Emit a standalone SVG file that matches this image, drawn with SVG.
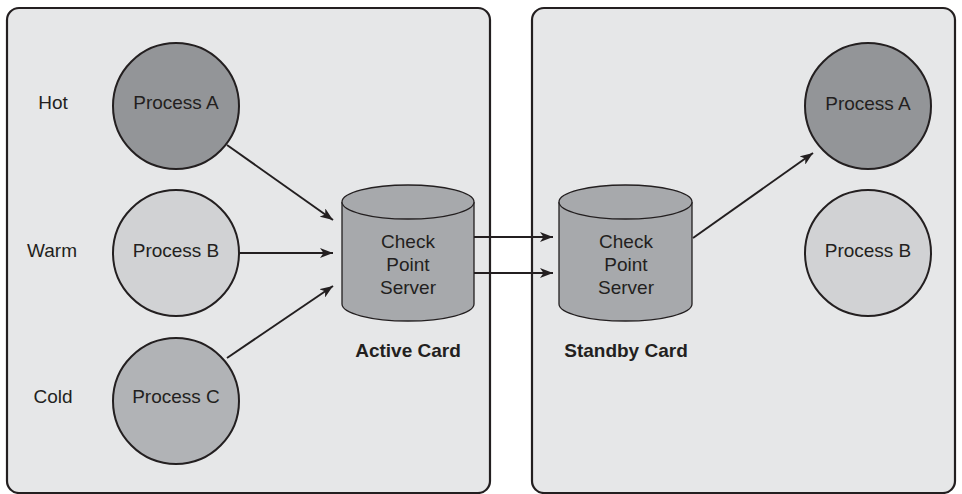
<svg xmlns="http://www.w3.org/2000/svg" width="962" height="494" viewBox="0 0 962 494">
<defs>
<style>
.panel{fill:#e6e7e8;stroke:#231f20;stroke-width:2.2}
.proc{stroke:#231f20;stroke-width:2}
.cyl{fill:#a7a9ac;stroke:#231f20;stroke-width:1.3}
.t{font-family:"Liberation Sans",Arial,sans-serif;font-size:19px;fill:#231f20;text-anchor:middle}
.b{font-weight:bold}
.c{stroke:#231f20;stroke-width:2;fill:none;marker-end:url(#ah)}
</style>
<marker id="ah" viewBox="0 0 13 10" refX="13" refY="5" markerWidth="13" markerHeight="10" markerUnits="userSpaceOnUse" orient="auto">
<path d="M0,0 L13,5 L0,10 L3.5,5 Z" fill="#231f20"/>
</marker>
</defs>
<rect id="active-card" class="panel" x="7" y="8" width="483" height="485" rx="12"/>
<rect id="standby-card" class="panel" x="532" y="8" width="423" height="485" rx="12"/>
<g id="labels">
<text class="t" x="53" y="109">Hot</text>
<text class="t" x="52" y="257">Warm</text>
<text class="t" x="53" y="403">Cold</text>
<text class="t b" x="408" y="357">Active Card</text>
<text class="t b" x="626" y="357">Standby Card</text>
</g>
<g id="connectors">
<line class="c" x1="227" y1="145" x2="333" y2="220"/>
<line class="c" x1="239" y1="253" x2="333" y2="253"/>
<line class="c" x1="227" y1="358" x2="333" y2="286"/>
<line class="c" x1="474" y1="237" x2="553" y2="237"/>
<line class="c" x1="474" y1="273" x2="553" y2="273"/>
<line class="c" x1="693" y1="238" x2="813" y2="153"/>
</g>
<g id="process-a-active">
<circle class="proc" cx="176" cy="106" r="63" fill="#939598"/>
<text class="t" x="176" y="109">Process A</text>
</g>
<g id="process-b-active">
<circle class="proc" cx="176" cy="253" r="63" fill="#d1d2d4"/>
<text class="t" x="176" y="257">Process B</text>
</g>
<g id="process-c-active">
<circle class="proc" cx="176" cy="401" r="63" fill="#b1b3b6"/>
<text class="t" x="176" y="403">Process C</text>
</g>
<g id="cps-active">
<path class="cyl" d="M342,202 L342,304 A66,17 0 0 0 474,304 L474,202"/>
<ellipse class="cyl" cx="408" cy="202" rx="66" ry="17" fill="#e6e7e8"/>
<text class="t" x="408" y="248">Check</text>
<text class="t" x="408" y="271">Point</text>
<text class="t" x="408" y="294">Server</text>
</g>
<g id="cps-standby">
<path class="cyl" d="M559,202 L559,304 A66.5,17 0 0 0 692,304 L692,202"/>
<ellipse class="cyl" cx="625.5" cy="202" rx="66.5" ry="17" fill="#e6e7e8"/>
<text class="t" x="626" y="248">Check</text>
<text class="t" x="626" y="271">Point</text>
<text class="t" x="626" y="294">Server</text>
</g>
<g id="process-a-standby">
<circle class="proc" cx="868" cy="106" r="63" fill="#939598"/>
<text class="t" x="868" y="110">Process A</text>
</g>
<g id="process-b-standby">
<circle class="proc" cx="868" cy="253" r="63" fill="#d1d2d4"/>
<text class="t" x="868" y="257">Process B</text>
</g>
</svg>
